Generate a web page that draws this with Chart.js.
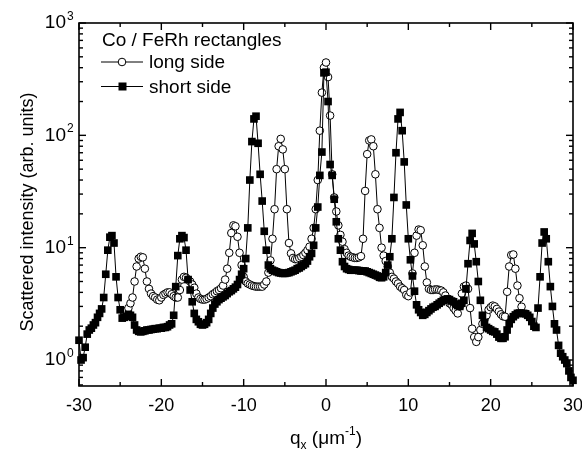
<!DOCTYPE html>
<html>
<head>
<meta charset="utf-8">
<script src="https://cdn.jsdelivr.net/npm/chart.js@4.4.1/dist/chart.umd.min.js"></script>
<style>
  body { margin: 0; background: #fff; }
  canvas { display: block; }
</style>
</head>
<body>
<canvas id="chart" width="582" height="454"></canvas>
<script>
// q_x grid, 0.25 um^-1 steps from -30 to 30
const qx = Array.from({ length: 241 }, (_, i) => -30 + i * 0.25);

// long side (open circles), only measured from -24.5 to 23.75
const longSide = [
  null, null, null, null, null, null, null, null, null, null, null, null,
  null, null, null, null, null, null, null, null, null, null,
  2.6, 2.75,
  2.9, 3.2, 3.6, 5.0,   6.8, 8.0, 8.3, 8.2,   6.5, 5.0, 4.3, 3.9,   3.7, 3.6, 3.45, 3.4,
  3.6, 3.8, 3.9, 4.0,   4.0, 3.85, 3.7, 3.6,  3.6, 4.2, 5.2, 5.5,   5.4, 5.2, 5.0, 4.7,
  4.4, 3.9, 3.6, 3.5,   3.45, 3.45, 3.5, 3.6, 3.7, 3.85, 3.95, 4.1, 4.2, 4.35, 4.6, 5.2,
  6.5, 9.0, 13.5, 15.8, 15.5, 12.5, 9.0, 7.0, 5.5, 5.0, 4.8, 4.7,   4.6, 4.55, 4.5, 4.5,
  4.5, 4.5, 4.7, 5.0,   6.0, 7.7, 12, 22,     50, 80, 93, 75,       50, 22, 11, 8.9,
  8.1, 7.9, 7.9, 8.1,   8.3, 8.6, 9.0, 9.5,   10.2, 12, 15, 22,     40, 110, 240, 400,
  445, 330, 150, 45,    28, 21, 15.8, 13,     11.3, 9.7, 9.0, 8.5,  8.3, 8.2, 8.1, 8.1,
  8.2, 8.4, 12, 32,     68, 90, 92, 80,       45, 22, 15, 10,       8.5, 7.6, 6.8, 6.0,
  5.5, 5.3, 5.0, 4.8,   4.5, 4.35, 4.2, 3.8,  3.7, 4.0, 5.9, 9.0,   12.8, 14.5, 14.3, 10.5,
  6.8, 4.9, 4.3, 4.2,   4.2, 4.25, 4.25, 4.2, 4.15, 4.0, 3.75, 3.45, 3.2, 3.1, 2.9, 2.75,
  2.6, 3.0, 3.9, 4.5,   4.6, 4.3, 2.9, 1.9,   1.6, 1.45, 1.6, 1.85, 2.1, 2.3, 2.5, 2.8,
  2.95, 3.05, 3.0, 2.85, 2.7, 2.55, 2.45, 2.43, 4.05, 6.8, 8.6, 8.7, 6.5, 4.6, 3.55, 2.98,
  null, null, null, null, null, null, null, null, null, null, null, null, null,
  null, null, null, null, null, null, null, null, null, null, null, null
];

// short side (filled squares)
const shortSide = [
  1.5, 1.0, 1.05, 1.3,   1.7, 1.85, 1.92, 2.05,  2.15, 2.4, 2.6, 2.85,  3.6, 5.8, 9.5, 12.4,
  12.8, 11.0, 5.5, 3.6,  2.8, 2.36, 2.4, 2.45,   2.55, 2.5, 2.4, 2.05,  1.85, 1.8, 1.78, 1.8,
  1.82, 1.85, 1.85, 1.87, 1.88, 1.9, 1.9, 1.92,  1.92, 1.95, 1.95, 1.98, 2.05, 2.1, 2.5, 4.5,
  8.5, 12.0, 12.8, 12.3, 9.5, 5.2, 4.2, 3.3,     2.6, 2.3, 2.19, 2.08,  2.05, 2.08, 2.15, 2.3,
  2.6, 2.9, 3.15, 3.3,   3.45, 3.55, 3.65, 3.75, 3.9, 4.05, 4.15, 4.3,  4.45, 4.7, 5.2, 5.8,
  6.5, 8.0, 15, 40,      88, 140, 148, 85,       45, 26, 14, 9.5,       7.0, 6.5, 6.3, 6.2,
  6.1, 6.0, 5.95, 5.9,   5.9, 5.95, 6.0, 6.1,    6.2, 6.3, 6.5, 6.6,    6.8, 7.0, 7.2, 7.6,
  8.3, 8.9, 10.5, 15,    23, 44, 71, 360,        365, 200, 55, 44,      27, 17, 12, 9.5,
  7.5, 6.8, 6.5, 6.4,    6.3, 6.3, 6.3, 6.3,     6.25, 6.2, 6.2, 6.2,   6.1, 6.0, 5.9, 5.8,
  5.7, 5.6, 5.45, 5.4,   5.5, 6.0, 7.0, 8.3,     12, 28, 70, 140,       160, 110, 58, 24,
  12, 7.8, 5.6, 4.1,     3.1, 2.8, 2.65, 2.5,    2.55, 2.65, 2.75, 2.85, 2.95, 3.0, 3.1, 3.2,
  3.3, 3.4, 3.45, 3.5,   3.45, 3.35, 3.3, 3.15,  3.05, 3.0, 3.2, 3.4,   4.3, 7.2, 11.6, 13.4,
  10.8, 7.5, 5.0, 3.4,   2.5, 2.15, 1.95, 1.9,   1.85, 1.8, 1.78, 1.7,  1.6, 1.56, 1.56, 1.61,
  1.85, 2.1, 2.3, 2.43,  2.52, 2.6, 2.62, 2.6,   2.6, 2.58, 2.5, 2.4,   2.2, 2.0, 1.95, 2.9,
  5.5, 11, 13.8, 12,     7.5, 4.5, 3.0, 2.1,     1.85, 1.35, 1.15, 1.07, 1.0, 0.93, 0.8, 0.7,
  0.66
];

// axis ticks
const xMajor = [-30, -20, -10, 0, 10, 20, 30];
const xMinor = [-25, -15, -5, 5, 15, 25];
const yDecades = [1, 10, 100, 1000];
const yExponents = ['0', '1', '2', '3'];

const FONT = "'Liberation Sans', Arial, Helvetica, sans-serif";

const framePlugin = {
  id: 'frame',
  afterDraw(chart) {
    const { ctx, chartArea: a, scales: { x, y } } = chart;
    ctx.save();
    ctx.strokeStyle = '#000';
    ctx.fillStyle = '#000';

    // box
    ctx.lineWidth = 1.6;
    ctx.strokeRect(a.left, a.top, a.right - a.left, a.bottom - a.top);

    const seg = (x1, y1, x2, y2) => {
      ctx.beginPath(); ctx.moveTo(x1, y1); ctx.lineTo(x2, y2); ctx.stroke();
    };

    // x ticks, pointing inward top and bottom
    ctx.lineWidth = 1.4;
    xMajor.forEach(v => {
      const p = x.getPixelForValue(v);
      seg(p, a.bottom, p, a.bottom - 7);
      seg(p, a.top, p, a.top + 7);
    });
    xMinor.forEach(v => {
      const p = x.getPixelForValue(v);
      seg(p, a.bottom, p, a.bottom - 4);
      seg(p, a.top, p, a.top + 4);
    });

    // y ticks, left and right
    yDecades.forEach(d => {
      const p = y.getPixelForValue(d);
      seg(a.left, p, a.left + 7, p);
      seg(a.right, p, a.right - 7, p);
      for (let m = 2; m <= 9; m++) {
        const v = m * d / 10;
        if (v < y.min || v > y.max) continue;
        const q = y.getPixelForValue(v);
        seg(a.left, q, a.left + 4, q);
        seg(a.right, q, a.right - 4, q);
      }
    });

    // x tick labels
    ctx.font = '18px ' + FONT;
    ctx.textAlign = 'center';
    ctx.textBaseline = 'middle';
    xMajor.forEach(v => ctx.fillText(String(v), x.getPixelForValue(v), a.bottom + 20));

    // y tick labels 10^n
    yDecades.forEach((d, i) => {
      const p = y.getPixelForValue(d);
      ctx.font = '19px ' + FONT;
      ctx.textAlign = 'right';
      ctx.textBaseline = 'middle';
      ctx.fillText('10', a.left - 13, p);
      ctx.font = '12px ' + FONT;
      ctx.textAlign = 'left';
      ctx.textBaseline = 'alphabetic';
      ctx.fillText(yExponents[i], a.left - 12, p - 3);
    });

    // y title
    ctx.save();
    ctx.translate(28, 212);
    ctx.rotate(-Math.PI / 2);
    ctx.font = '18px ' + FONT;
    ctx.textAlign = 'center';
    ctx.textBaseline = 'middle';
    ctx.fillText('Scattered intensity (arb. units)', 0, 0);
    ctx.restore();

    // x title: q_x (μm^-1)
    const big = '19px ' + FONT, small = '12px ' + FONT;
    const parts = [
      ['q', big, 0], ['x', small, 5], [' (\u03bcm', big, 0], ['-1', small, -9], [')', big, 0]
    ];
    let total = 0;
    parts.forEach(([t, f]) => { ctx.font = f; total += ctx.measureText(t).width; });
    let cx = (a.left + a.right) / 2 - total / 2;
    const base = 444;
    ctx.textAlign = 'left';
    ctx.textBaseline = 'alphabetic';
    parts.forEach(([t, f, dy]) => {
      ctx.font = f;
      ctx.fillText(t, cx, base + dy);
      cx += ctx.measureText(t).width;
    });

    // legend inside plot
    ctx.font = '19px ' + FONT;
    ctx.fillText('Co / FeRh rectangles', 102, 46);
    ctx.lineWidth = 1;
    seg(101, 62, 143, 62);
    ctx.beginPath(); ctx.arc(122, 62, 3.8, 0, Math.PI * 2);
    ctx.fillStyle = '#fff'; ctx.fill(); ctx.stroke();
    ctx.fillStyle = '#000';
    ctx.fillText('long side', 149, 68);
    seg(101, 86.5, 143, 86.5);
    ctx.fillRect(118.5, 82.5, 8, 8);
    ctx.fillText('short side', 149, 92.5);

    ctx.restore();
  }
};

const toPoints = arr => qx.map((q, i) => ({ x: q, y: arr[i] }));

new Chart(document.getElementById('chart').getContext('2d'), {
  type: 'line',
  data: {
    datasets: [
      {
        label: 'short side',
        data: toPoints(shortSide),
        order: 0,
        borderColor: '#000',
        borderWidth: 1,
        pointStyle: 'rect',
        pointRadius: 5.4,
        pointBackgroundColor: '#000',
        pointBorderColor: '#000',
        pointBorderWidth: 0,
        clip: false
      },
      {
        label: 'long side',
        data: toPoints(longSide),
        order: 1,
        borderColor: '#000',
        borderWidth: 1,
        pointStyle: 'circle',
        pointRadius: 3.8,
        pointBackgroundColor: '#fff',
        pointBorderColor: '#000',
        pointBorderWidth: 1,
        clip: false
      }
    ]
  },
  options: {
    responsive: false,
    animation: false,
    spanGaps: false,
    layout: { padding: { left: 79, right: 9, top: 23, bottom: 68 } },
    plugins: { legend: { display: false }, tooltip: { enabled: false } },
    scales: {
      x: { type: 'linear', display: false, min: -30, max: 30 },
      y: { type: 'logarithmic', display: false, min: 0.587, max: 1000 }
    }
  },
  plugins: [framePlugin]
});
</script>
</body>
</html>
